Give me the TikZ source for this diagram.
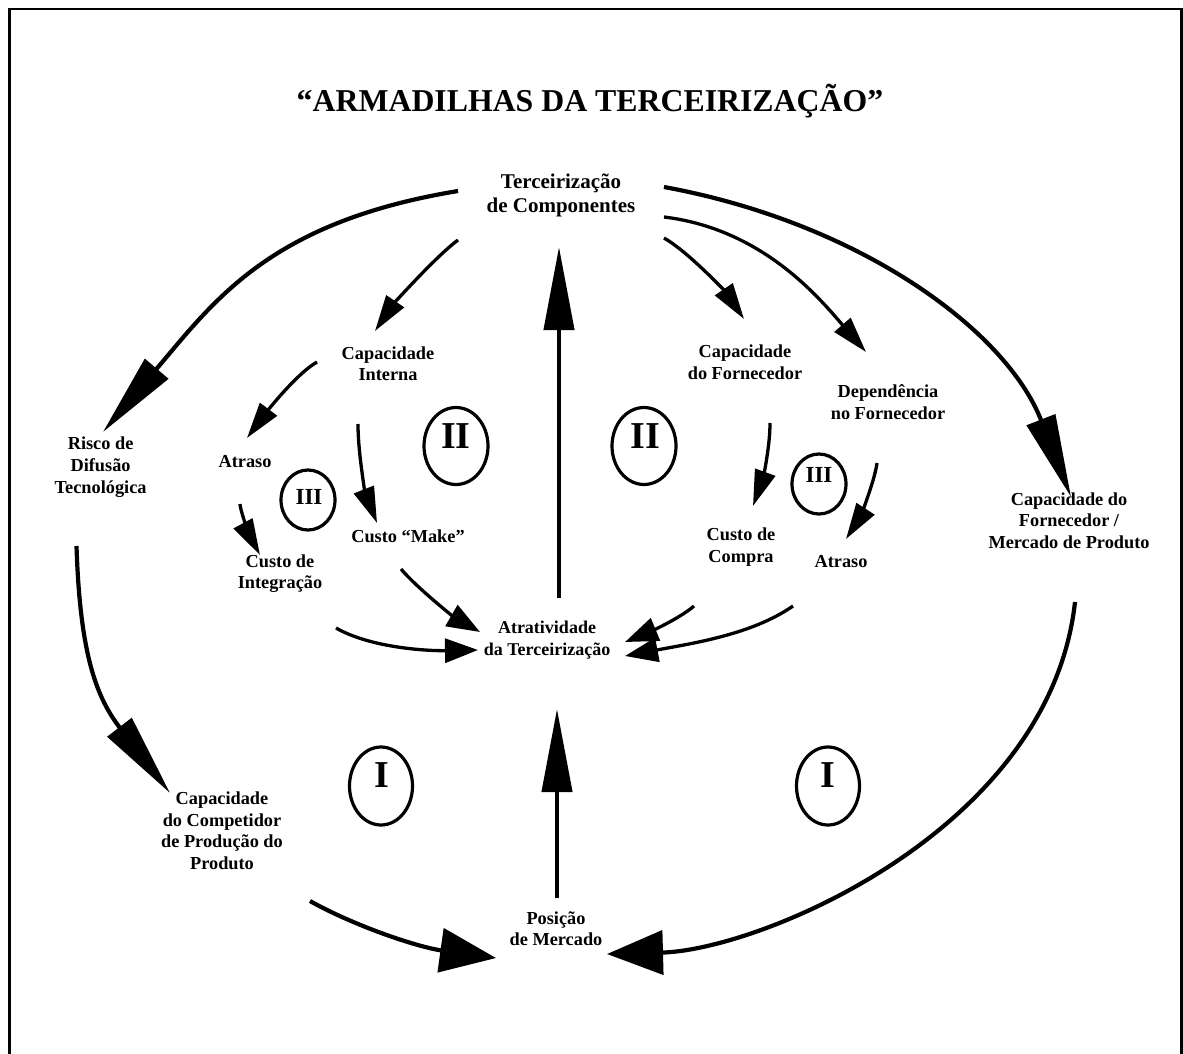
\documentclass[tikz,border=0pt]{standalone}
\usepackage{fontspec}
\setmainfont{Liberation Serif}
\usetikzlibrary{arrows.meta,shapes.geometric}
\begin{document}
\begin{tikzpicture}[x=1pt,y=-1pt,
  lbl/.style={font=\bfseries\fontsize{18.3}{21.7}\selectfont, align=center, inner sep=0pt},
  numbig/.style={font=\bfseries\fontsize{38}{40}\selectfont, anchor=base, inner sep=0pt},
  numsmall/.style={font=\bfseries\fontsize{23}{25}\selectfont, anchor=base, inner sep=0pt},
  loopmark/.style={ellipse, draw, line width=3.2pt, inner sep=0pt},
  bigtip/.style={-{Triangle[length=83pt,width=30pt]}},
  widetip/.style={-{Triangle[length=56pt,width=44pt]}},
  midtip/.style={-{Triangle[length=33pt,width=24pt]}},
  smalltip/.style={-{Triangle[length=36pt,width=21pt]}},
  outer/.style={line width=4.2pt},
  inner/.style={line width=3.3pt},
]
\useasboundingbox (0,0) rectangle (1183,1054);
% frame, open at the bottom
\draw[line width=2.2pt] (9.5,1054) -- (9.5,8.7) -- (1181.5,8.7) -- (1181.5,1054);

% title
\node[font=\bfseries\fontsize{31.8}{38}\selectfont, anchor=base, inner sep=0pt] (title) at (590,112) {“ARMADILHAS DA TERCEIRIZAÇÃO”};

% variables
\node[lbl, font=\bfseries\fontsize{21}{24}\selectfont] (terc) at (561,195) {Terceirização\\de Componentes};
\node[lbl] (capint) at (388,363.7) {Capacidade\\Interna};
\node[lbl] (capforn) at (745,362) {Capacidade\\do Fornecedor};
\node[lbl] (dep) at (888,402) {Dependência\\no Fornecedor};
\node[lbl] (risco) at (100.6,467) {Risco de\\Difusão\\Tecnológica};
\node[lbl] (atrasoL) at (245,462) {Atraso};
\node[lbl] (make) at (408,536) {Custo “Make”};
\node[lbl] (integ) at (280,573.7) {Custo de\\Integração};
\node[lbl] (compra) at (741,547) {Custo de\\Compra};
\node[lbl] (atrasoR) at (841,562) {Atraso};
\node[lbl] (mercado) at (1069,520.7) {Capacidade do\\Fornecedor /\\Mercado de Produto};
\node[lbl, font=\bfseries\fontsize{18}{22}\selectfont] (atrat) at (547,639.8) {Atratividade\\da Terceirização};
\node[lbl] (compet) at (222,830.7) {Capacidade\\do Competidor\\de Produção do\\Produto};
\node[lbl] (posicao) at (556,928.7) {Posição\\de Mercado};

% loop markers
\node[loopmark, minimum width=64pt, minimum height=77pt] (loop2a) at (456,446) {};
\node[numbig] (num2a) at (456,448) {II};
\node[loopmark, minimum width=64pt, minimum height=77pt] (loop2b) at (644,446) {};
\node[numbig] (num2b) at (645,448) {II};
\node[loopmark, minimum width=54pt, minimum height=60pt] (loop3a) at (308,500) {};
\node[numsmall] (num3a) at (309,504) {III};
\node[loopmark, minimum width=54pt, minimum height=60pt] (loop3b) at (819,484) {};
\node[numsmall] (num3b) at (819,482) {III};
\node[loopmark, minimum width=63pt, minimum height=78pt] (loop1a) at (381,786) {};
\node[numbig] (num1a) at (382,787) {I};
\node[loopmark, minimum width=63pt, minimum height=78pt] (loop1b) at (828,786) {};
\node[numbig] (num1b) at (828,787) {I};

% connector ends
\coordinate (terc-o1) at (458,191);
\coordinate (terc-o2) at (458,240);
\coordinate (terc-o3) at (664,238);
\coordinate (terc-o4) at (664,217);
\coordinate (terc-o5) at (664,187);
\coordinate (terc-i) at (559,247);
\coordinate (risco-i) at (103,432);
\coordinate (risco-o) at (76.5,546);
\coordinate (capint-i) at (375,331);
\coordinate (capint-o1) at (317,362);
\coordinate (capint-o2) at (358,424);
\coordinate (capforn-i) at (744,319);
\coordinate (capforn-o) at (770,423);
\coordinate (dep-i) at (866,352);
\coordinate (dep-o) at (877,463);
\coordinate (mercado-i) at (1071,497);
\coordinate (mercado-o) at (1075,602);
\coordinate (atrasoL-i) at (247,438);
\coordinate (atrasoL-o) at (240,504);
\coordinate (integ-i) at (260,555);
\coordinate (integ-o) at (336,628);
\coordinate (make-i) at (377,523);
\coordinate (make-o) at (401,569);
\coordinate (compra-i) at (753,506);
\coordinate (compra-o) at (694,606);
\coordinate (atrasoR-i) at (846,539);
\coordinate (atrasoR-o) at (793,606);
\coordinate (atrat-i1) at (480,632);
\coordinate (atrat-i2) at (478,650);
\coordinate (atrat-i3) at (625,642);
\coordinate (atrat-i4) at (625,656);
\coordinate (atrat-i5) at (557,709);
\coordinate (atrat-o) at (559,598);
\coordinate (compet-i) at (170,793);
\coordinate (compet-o) at (310,901);
\coordinate (posicao-i1) at (496,958);
\coordinate (posicao-i2) at (607,954);
\coordinate (posicao-o) at (557,898);

% outer loop (I)
\draw[outer,bigtip] (terc-o1) .. controls (270,222) and (215,300) .. (risco-i);
\draw[outer,bigtip] (risco-o) .. controls (80,656) and (97,698) .. (compet-i);
\draw[outer,widetip] (compet-o) .. controls (353.5,925.5) and (417,947) .. (posicao-i1);
\draw[outer,bigtip] (terc-o5) .. controls (860,223) and (1006,330) .. (mercado-i);
\draw[outer,widetip] (mercado-o) .. controls (1050,830) and (760,950) .. (posicao-i2);
\draw[outer,bigtip] (posicao-o) -- (atrat-i5);
\draw[outer,bigtip] (atrat-o) -- (terc-i);

% middle loops (II)
\draw[inner,smalltip] (terc-o2) .. controls (434,258) and (392,306) .. (capint-i);
\draw[inner,smalltip] (terc-o3) .. controls (690,253) and (727,294) .. (capforn-i);
\draw[inner,smalltip] (terc-o4) .. controls (763,229) and (820,299) .. (dep-i);
\draw[inner,smalltip] (capint-o2) .. controls (358,455) and (366,495) .. (make-i);
\draw[inner,smalltip] (capforn-o) .. controls (770,450) and (761.5,482.5) .. (compra-i);
\draw[inner,midtip] (make-o) .. controls (417,588) and (454,617) .. (atrat-i1);
\draw[inner,midtip] (compra-o) .. controls (679,619) and (648,632.5) .. (atrat-i3);

% inner loops (III)
\draw[inner,smalltip] (capint-o1) .. controls (295,374.5) and (262,418) .. (atrasoL-i);
\draw[inner,smalltip] (atrasoL-o) .. controls (241,515) and (253,542) .. (integ-i);
\draw[inner,midtip] (integ-o) .. controls (371,648) and (428,651) .. (atrat-i2);
\draw[inner,smalltip] (dep-o) .. controls (874,485) and (857,522) .. (atrasoR-i);
\draw[inner,midtip] (atrasoR-o) .. controls (752,634.5) and (694,643) .. (atrat-i4);
\end{tikzpicture}
\end{document}
